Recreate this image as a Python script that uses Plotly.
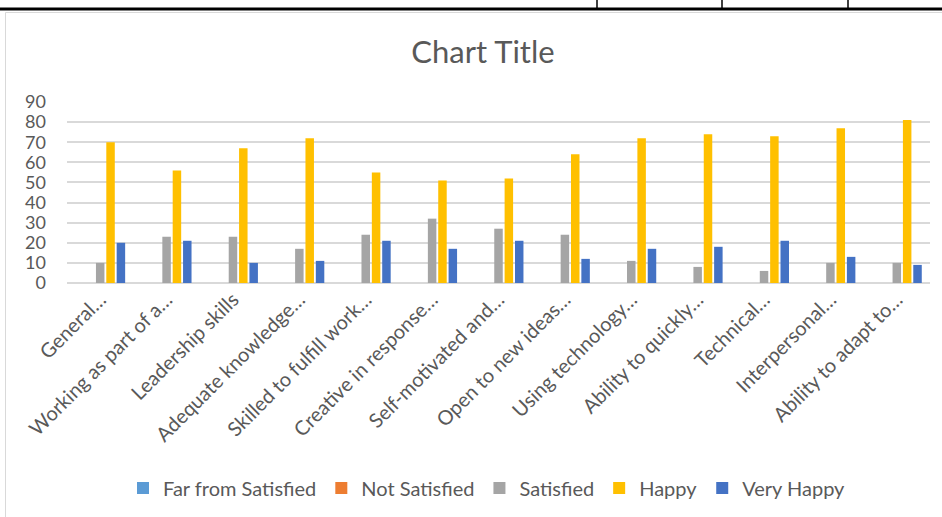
import plotly.graph_objects as go

W, H = 942, 517
PLOT_L, PLOT_R, PLOT_T, PLOT_B = 67, 930, 102, 283  # page px
ML, MT = PLOT_L, PLOT_T
MR = W - PLOT_R
MB = H - PLOT_B

categories = [
    "General…", "Working as part of a…", "Leadership skills", "Adequate knowledge…",
    "Skilled to fulfill work…", "Creative in response…", "Self-motivated and…",
    "Open to new ideas…", "Using technology…", "Ability to quickly…", "Technical…",
    "Interpersonal…", "Ability to adapt to…",
]
far_from_satisfied = [0] * 13
not_satisfied = [0] * 13
satisfied = [10, 23, 23, 17, 24, 32, 27, 24, 11, 8, 6, 10, 10]
happy = [70, 56, 67, 72, 55, 51, 52, 64, 72, 74, 73, 77, 81]
very_happy = [20, 21, 10, 11, 21, 17, 21, 12, 17, 18, 21, 13, 9]

series = [
    ("Far from Satisfied", far_from_satisfied, "#5B9BD5"),
    ("Not Satisfied", not_satisfied, "#ED7D31"),
    ("Satisfied", satisfied, "#A5A5A5"),
    ("Happy", happy, "#FFC000"),
    ("Very Happy", very_happy, "#4472C4"),
]

FONT = "Lato"
GREY = "#595959"

fig = go.Figure()
for name, vals, col in series:
    fig.add_trace(go.Bar(x=categories, y=vals, name=name,
                         marker=dict(color=col, line=dict(width=0))))


def px_x(p):
    return (p - ML) / (W - ML - MR)


def px_y(p):
    return 1 - (p - MT) / (H - MT - MB)


shapes = [
    dict(type="rect", xref="paper", yref="paper",
         x0=px_x(5.5), x1=px_x(960), y0=px_y(530), y1=px_y(12.5),
         line=dict(color="#D9D9D9", width=1), fillcolor="rgba(0,0,0,0)", layer="below"),
    dict(type="line", xref="paper", yref="paper",
         x0=px_x(-5), x1=px_x(960), y0=px_y(9), y1=px_y(9),
         line=dict(color="black", width=3)),
]
for xv in [597, 722, 848]:
    shapes.append(dict(type="line", xref="paper", yref="paper",
                       x0=px_x(xv), x1=px_x(xv), y0=px_y(-5), y1=px_y(9),
                       line=dict(color="black", width=1.5)))

fig.update_layout(
    width=W, height=H, autosize=False,
    margin=dict(l=ML, r=MR, t=MT, b=MB),
    paper_bgcolor="white", plot_bgcolor="white",
    font=dict(family=FONT, color=GREY),
    title=dict(text="Chart Title", x=px_x(483), xref="paper", xanchor="center",
               y=1 - 52 / H, yanchor="middle", yref="container",
               font=dict(family=FONT, size=31, color=GREY)),
    barmode="group", bargap=0.22, bargroupgap=0.18,
    showlegend=True,
    legend=dict(orientation="h", x=px_x(487), xanchor="center", xref="paper",
                y=1 - 488 / H, yref="container", yanchor="middle",
                font=dict(family=FONT, size=20, color=GREY),
                itemsizing="constant", itemwidth=30),
    xaxis=dict(tickangle=-45, tickfont=dict(family=FONT, size=20, color=GREY),
               showgrid=False, showline=False, ticks="", ticklen=0),
    yaxis=dict(range=[0, 90], dtick=10, tickfont=dict(family=FONT, size=18, color=GREY),
               showgrid=True, gridcolor="#D9D9D9", gridwidth=1.5,
               zeroline=True, zerolinecolor="#D9D9D9", zerolinewidth=1.5,
               showline=False, ticks="", ticklabelstandoff=20),
    shapes=shapes,
)

fig.write_html("out.html", config={"displayModeBar": False},
               post_script="document.body.style.margin='0';document.body.style.overflow='hidden';")
